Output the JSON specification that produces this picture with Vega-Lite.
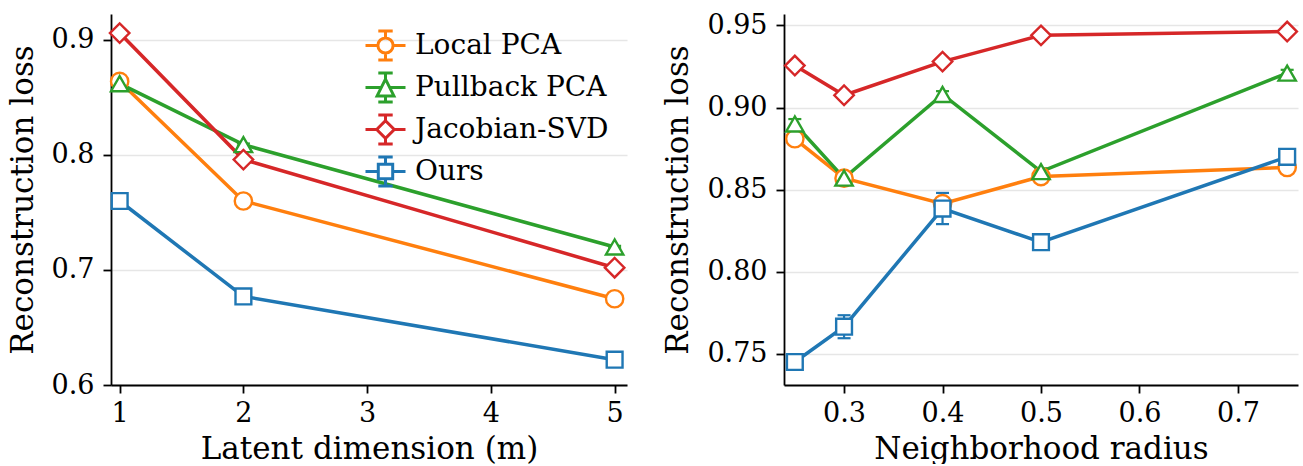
{
  "$schema": "https://vega.github.io/schema/vega-lite/v6.json",
  "padding": {"left": 7, "top": 11, "right": 0, "bottom": 0},
  "background": "white",
  "config": {
    "view": {"stroke": null},
    "font": "DejaVu Serif",
    "axis": {
      "domainColor": "black", "domainWidth": 1.8, "tickColor": "black", "tickWidth": 1.8, "tickSize": 8,
      "labelFont": "DejaVu Serif", "labelFontSize": 27, "labelColor": "black",
      "titleFont": "DejaVu Serif", "titleFontSize": 31, "titleFontWeight": "normal", "titleColor": "black",
      "labelPadding": 9, "gridColor": "#e6e6e6", "gridWidth": 1.5
    },
    "axisX": {"grid": false, "titlePadding": 8, "labelPadding": 7},
    "axisY": {"grid": true, "titlePadding": 12}
  },
  "datasets": {
    "dim": [
      {"method": "Local PCA", "m": 1, "loss": 0.864, "lo": 0.863, "hi": 0.865},
      {"method": "Local PCA", "m": 2, "loss": 0.760, "lo": 0.759, "hi": 0.761},
      {"method": "Local PCA", "m": 5, "loss": 0.675, "lo": 0.674, "hi": 0.676},
      {"method": "Pullback PCA", "m": 1, "loss": 0.862, "lo": 0.861, "hi": 0.863},
      {"method": "Pullback PCA", "m": 2, "loss": 0.809, "lo": 0.808, "hi": 0.810},
      {"method": "Pullback PCA", "m": 5, "loss": 0.720, "lo": 0.719, "hi": 0.721},
      {"method": "Jacobian-SVD", "m": 1, "loss": 0.906, "lo": 0.905, "hi": 0.907},
      {"method": "Jacobian-SVD", "m": 2, "loss": 0.796, "lo": 0.795, "hi": 0.797},
      {"method": "Jacobian-SVD", "m": 5, "loss": 0.702, "lo": 0.701, "hi": 0.703},
      {"method": "Ours", "m": 1, "loss": 0.760, "lo": 0.759, "hi": 0.761},
      {"method": "Ours", "m": 2, "loss": 0.677, "lo": 0.676, "hi": 0.678},
      {"method": "Ours", "m": 5, "loss": 0.622, "lo": 0.621, "hi": 0.623}
    ],
    "radius": [
      {"method": "Local PCA", "r": 0.25, "loss": 0.881, "lo": 0.880, "hi": 0.882},
      {"method": "Local PCA", "r": 0.3, "loss": 0.857, "lo": 0.856, "hi": 0.858},
      {"method": "Local PCA", "r": 0.4, "loss": 0.8415, "lo": 0.8395, "hi": 0.8435},
      {"method": "Local PCA", "r": 0.5, "loss": 0.858, "lo": 0.857, "hi": 0.859},
      {"method": "Local PCA", "r": 0.75, "loss": 0.8635, "lo": 0.8625, "hi": 0.8645},
      {"method": "Pullback PCA", "r": 0.25, "loss": 0.890, "lo": 0.887, "hi": 0.893},
      {"method": "Pullback PCA", "r": 0.3, "loss": 0.857, "lo": 0.855, "hi": 0.859},
      {"method": "Pullback PCA", "r": 0.4, "loss": 0.908, "lo": 0.906, "hi": 0.910},
      {"method": "Pullback PCA", "r": 0.5, "loss": 0.861, "lo": 0.859, "hi": 0.863},
      {"method": "Pullback PCA", "r": 0.75, "loss": 0.921, "lo": 0.919, "hi": 0.923},
      {"method": "Jacobian-SVD", "r": 0.25, "loss": 0.9256, "lo": 0.9246, "hi": 0.9266},
      {"method": "Jacobian-SVD", "r": 0.3, "loss": 0.9075, "lo": 0.9065, "hi": 0.9085},
      {"method": "Jacobian-SVD", "r": 0.4, "loss": 0.928, "lo": 0.927, "hi": 0.929},
      {"method": "Jacobian-SVD", "r": 0.5, "loss": 0.944, "lo": 0.943, "hi": 0.945},
      {"method": "Jacobian-SVD", "r": 0.75, "loss": 0.9463, "lo": 0.9453, "hi": 0.9473},
      {"method": "Ours", "r": 0.25, "loss": 0.745, "lo": 0.743, "hi": 0.747},
      {"method": "Ours", "r": 0.3, "loss": 0.7665, "lo": 0.7595, "hi": 0.7735},
      {"method": "Ours", "r": 0.4, "loss": 0.8385, "lo": 0.829, "hi": 0.848},
      {"method": "Ours", "r": 0.5, "loss": 0.818, "lo": 0.816, "hi": 0.820},
      {"method": "Ours", "r": 0.75, "loss": 0.870, "lo": 0.866, "hi": 0.874}
    ]
  },
  "resolve": {"scale": {"color": "independent", "shape": "independent"}},
  "spacing": 32,
  "hconcat": [
    {
      "width": 516, "height": 371,
      "data": {"name": "dim"},
      "encoding": {
        "x": {"field": "m", "type": "quantitative", "title": "Latent dimension (m)",
              "scale": {"domain": [0.93, 5.1], "nice": false, "zero": false},
              "axis": {"values": [1, 2, 3, 4, 5], "format": "d"}},
        "y": {"field": "loss", "type": "quantitative", "title": "Reconstruction loss",
              "scale": {"domain": [0.6, 0.9226], "nice": false, "zero": false},
              "axis": {"values": [0.6, 0.7, 0.8, 0.9], "format": ".1f"}},
        "color": {"field": "method", "type": "nominal",
          "scale": {"domain": ["Local PCA", "Pullback PCA", "Jacobian-SVD", "Ours"], "range": ["#ff7f0e", "#2ca02c", "#d62728", "#1f77b4"]},
          "legend": {"title": null, "orient": "none", "legendX": 253, "legendY": 10, "padding": 0,
               "symbolSize": 1600, "symbolStrokeWidth": 3, "symbolOpacity": 1, "symbolFillColor": "white",
               "labelFont": "DejaVu Serif", "labelFontSize": 28, "labelColor": "black", "labelOffset": 8, "rowPadding": 0, "labelLimit": 0}}
      },
      "layer": [
        {"mark": {"type": "line", "strokeWidth": 3.5}},
        {"mark": {"type": "rule", "strokeWidth": 2.2},
         "encoding": {"y": {"field": "lo", "type": "quantitative", "title": "Reconstruction loss",
              "scale": {"domain": [0.6, 0.9226], "nice": false, "zero": false},
              "axis": {"values": [0.6, 0.7, 0.8, 0.9], "format": ".1f"}}, "y2": {"field": "hi"}}},
        {"mark": {"type": "point", "shape": "M-1,0H1", "filled": false, "strokeWidth": 2.2, "opacity": 1, "size": 169},
         "encoding": {"y": {"field": "lo", "type": "quantitative", "title": "Reconstruction loss",
              "scale": {"domain": [0.6, 0.9226], "nice": false, "zero": false},
              "axis": {"values": [0.6, 0.7, 0.8, 0.9], "format": ".1f"}}}},
        {"mark": {"type": "point", "shape": "M-1,0H1", "filled": false, "strokeWidth": 2.2, "opacity": 1, "size": 169},
         "encoding": {"y": {"field": "hi", "type": "quantitative", "title": "Reconstruction loss",
              "scale": {"domain": [0.6, 0.9226], "nice": false, "zero": false},
              "axis": {"values": [0.6, 0.7, 0.8, 0.9], "format": ".1f"}}}},
        {"transform": [{"filter": "datum.method == 'Local PCA'"}],
         "mark": {"type": "point", "shape": "circle", "filled": false, "fill": "white", "strokeWidth": 2.4, "opacity": 1, "size": 300}},
        {"transform": [{"filter": "datum.method == 'Pullback PCA'"}],
         "mark": {"type": "point", "shape": "triangle-up", "filled": false, "fill": "white", "strokeWidth": 2.4, "opacity": 1, "size": 300}},
        {"transform": [{"filter": "datum.method == 'Jacobian-SVD'"}],
         "mark": {"type": "point", "shape": "diamond", "filled": false, "fill": "white", "strokeWidth": 2.4, "opacity": 1, "size": 380}},
        {"transform": [{"filter": "datum.method == 'Ours'"}],
         "mark": {"type": "point", "shape": "square", "filled": false, "fill": "white", "strokeWidth": 2.4, "opacity": 1, "size": 250}},
        {"mark": {"type": "point", "filled": false, "opacity": 0, "size": 10},
         "encoding": {
           "shape": {"field": "method", "type": "nominal",
             "scale": {"domain": ["Local PCA", "Pullback PCA", "Jacobian-SVD", "Ours"],
               "range": [
                 "M-1,0H-0.38M0.38,0H1M0,-0.38V-0.72M0,0.38V0.72M-0.36,-0.72H0.36M-0.36,0.72H0.36M0.38,0A0.38,0.38,0,1,1,-0.38,0A0.38,0.38,0,1,1,0.38,0Z",
                 "M-1,0H-0.21M0.21,0H1M0,-0.42V-0.72M0,0.42V0.72M-0.36,-0.72H0.36M-0.36,0.72H0.36M0,-0.42L0.42,0.42H-0.42Z",
                 "M-1,0H-0.44M0.44,0H1M0,-0.44V-0.72M0,0.44V0.72M-0.36,-0.72H0.36M-0.36,0.72H0.36M0,-0.44L0.44,0L0,0.44L-0.44,0Z",
                 "M-1,0H-0.36M0.36,0H1M0,-0.36V-0.72M0,0.36V0.72M-0.36,-0.72H0.36M-0.36,0.72H0.36M-0.36,-0.36H0.36V0.36H-0.36Z"]},
             "legend": {"title": null, "orient": "none", "legendX": 253, "legendY": 10, "padding": 0,
               "symbolSize": 1600, "symbolStrokeWidth": 3, "symbolOpacity": 1, "symbolFillColor": "white",
               "labelFont": "DejaVu Serif", "labelFontSize": 28, "labelColor": "black", "labelOffset": 8, "rowPadding": 0, "labelLimit": 0}}
         }}
      ]
    },
    {
      "width": 514, "height": 371,
      "data": {"name": "radius"},
      "encoding": {
        "x": {"field": "r", "type": "quantitative", "title": "Neighborhood radius",
              "scale": {"domain": [0.239, 0.761], "nice": false, "zero": false},
              "axis": {"values": [0.3, 0.4, 0.5, 0.6, 0.7], "format": ".1f"}},
        "y": {"field": "loss", "type": "quantitative", "title": "Reconstruction loss",
              "scale": {"domain": [0.731, 0.957], "nice": false, "zero": false},
              "axis": {"values": [0.75, 0.8, 0.85, 0.9, 0.95], "format": ".2f"}},
        "color": {"field": "method", "type": "nominal",
          "scale": {"domain": ["Local PCA", "Pullback PCA", "Jacobian-SVD", "Ours"], "range": ["#ff7f0e", "#2ca02c", "#d62728", "#1f77b4"]},
          "legend": null}
      },
      "layer": [
        {"mark": {"type": "line", "strokeWidth": 3.5}},
        {"mark": {"type": "rule", "strokeWidth": 2.2},
         "encoding": {"y": {"field": "lo", "type": "quantitative", "title": "Reconstruction loss",
              "scale": {"domain": [0.731, 0.957], "nice": false, "zero": false},
              "axis": {"values": [0.75, 0.8, 0.85, 0.9, 0.95], "format": ".2f"}}, "y2": {"field": "hi"}}},
        {"mark": {"type": "point", "shape": "M-1,0H1", "filled": false, "strokeWidth": 2.2, "opacity": 1, "size": 169},
         "encoding": {"y": {"field": "lo", "type": "quantitative", "title": "Reconstruction loss",
              "scale": {"domain": [0.731, 0.957], "nice": false, "zero": false},
              "axis": {"values": [0.75, 0.8, 0.85, 0.9, 0.95], "format": ".2f"}}}},
        {"mark": {"type": "point", "shape": "M-1,0H1", "filled": false, "strokeWidth": 2.2, "opacity": 1, "size": 169},
         "encoding": {"y": {"field": "hi", "type": "quantitative", "title": "Reconstruction loss",
              "scale": {"domain": [0.731, 0.957], "nice": false, "zero": false},
              "axis": {"values": [0.75, 0.8, 0.85, 0.9, 0.95], "format": ".2f"}}}},
        {"transform": [{"filter": "datum.method == 'Local PCA'"}],
         "mark": {"type": "point", "shape": "circle", "filled": false, "fill": "white", "strokeWidth": 2.4, "opacity": 1, "size": 300}},
        {"transform": [{"filter": "datum.method == 'Pullback PCA'"}],
         "mark": {"type": "point", "shape": "triangle-up", "filled": false, "fill": "white", "strokeWidth": 2.4, "opacity": 1, "size": 300}},
        {"transform": [{"filter": "datum.method == 'Jacobian-SVD'"}],
         "mark": {"type": "point", "shape": "diamond", "filled": false, "fill": "white", "strokeWidth": 2.4, "opacity": 1, "size": 380}},
        {"transform": [{"filter": "datum.method == 'Ours'"}],
         "mark": {"type": "point", "shape": "square", "filled": false, "fill": "white", "strokeWidth": 2.4, "opacity": 1, "size": 250}}
      ]
    }
  ]
}
